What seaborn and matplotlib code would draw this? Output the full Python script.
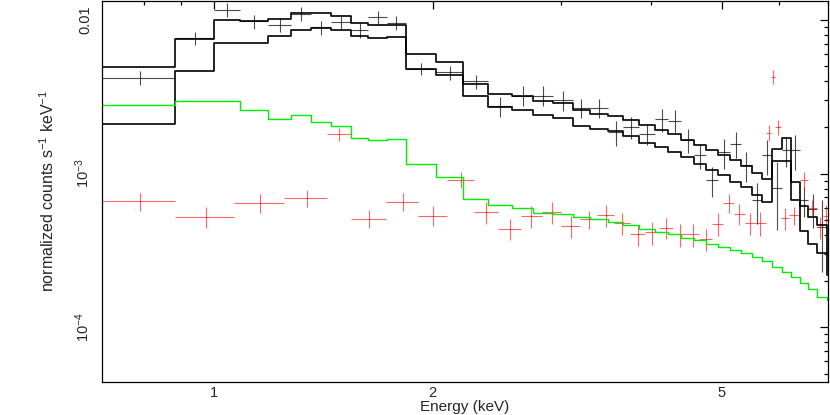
import numpy as np
import pandas as pd
import seaborn as sns
import matplotlib
matplotlib.use("Agg")
import matplotlib.pyplot as plt
from matplotlib.ticker import FixedLocator, NullFormatter, LogLocator

# ---- data ----
# common bin edges (keV) for black data + models
edges = [0.70, 0.884, 1.00, 1.086, 1.187, 1.276, 1.360, 1.449, 1.543, 1.632,
         1.728, 1.838, 2.021, 2.203, 2.387, 2.572, 2.751, 2.931, 3.116, 3.293,
         3.485, 3.659, 3.849, 4.045, 4.216, 4.400, 4.578, 4.763, 4.944, 5.131,
         5.313, 5.495, 5.672, 5.855, 6.044, 6.218, 6.407, 6.580, 6.770, 6.970, 7.20]

model_a = [4.92e-3, 7.56e-3, 1.00e-2, 9.79e-3, 1.015e-2, 1.11e-2, 1.11e-2, 1.066e-2, 9.56e-3, 9.32e-3,
           9.32e-3, 6.02e-3, 5.30e-3, 3.84e-3, 3.31e-3, 3.22e-3, 2.96e-3, 2.87e-3, 2.58e-3, 2.45e-3,
           2.37e-3, 2.24e-3, 2.06e-3, 1.91e-3, 1.80e-3, 1.66e-3, 1.54e-3, 1.43e-3, 1.33e-3, 1.22e-3,
           1.12e-3, 1.01e-3, 9.28e-4, 1.45e-3, 1.70e-3, 8.82e-4, 6.13e-4, 5.23e-4, 4.62e-4, 3.04e-4]

model_b = [2.11e-3, 4.64e-3, 7.12e-3, 7.12e-3, 7.91e-3, 8.65e-3, 8.87e-3, 8.61e-3, 7.82e-3, 7.59e-3,
           7.71e-3, 4.81e-3, 4.35e-3, 3.18e-3, 2.71e-3, 2.58e-3, 2.39e-3, 2.31e-3, 2.04e-3, 1.96e-3,
           1.88e-3, 1.75e-3, 1.58e-3, 1.49e-3, 1.38e-3, 1.28e-3, 1.16e-3, 1.06e-3, 9.78e-4, 8.88e-4,
           8.15e-4, 7.28e-4, 6.58e-4, 1.21e-3, 1.21e-3, 6.71e-4, 4.22e-4, 3.48e-4, 3.05e-4, 2.19e-4]

bkg_model = [2.81e-3, 2.96e-3, 2.96e-3, 2.60e-3, 2.25e-3, 2.40e-3, 2.16e-3, 2.04e-3, 1.70e-3, 1.65e-3,
             1.68e-3, 1.16e-3, 9.50e-4, 6.81e-4, 6.24e-4, 5.98e-4, 5.55e-4, 5.50e-4, 5.23e-4, 5.03e-4,
             4.85e-4, 4.60e-4, 4.39e-4, 4.20e-4, 4.02e-4, 3.80e-4, 3.69e-4, 3.51e-4, 3.34e-4, 3.18e-4,
             3.04e-4, 2.87e-4, 2.71e-4, 2.47e-4, 2.30e-4, 2.11e-4, 1.95e-4, 1.77e-4, 1.58e-4, 1.50e-4]

src_y = [4.20e-3, 7.59e-3, 1.161e-2, 9.79e-3, 9.32e-3, 1.094e-2, 8.95e-3, 9.75e-3, 8.61e-3, 1.04e-2,
         9.61e-3, 4.81e-3, 4.57e-3, 3.98e-3, 2.74e-3, 3.22e-3, 3.22e-3, 2.99e-3, 2.68e-3, 2.68e-3,
         1.86e-3, 2.01e-3, 1.82e-3, 2.25e-3, 2.20e-3, 1.66e-3, 1.315e-3, 9.04e-4, 1.38e-3, 1.565e-3,
         1.132e-3, 6.71e-4, 1.315e-3, 8.11e-4, 1.416e-3, 1.416e-3, 6.71e-4, 5.92e-4, 4.50e-4, 3.0e-4]
src_err = [0.44e-3, 0.72e-3, 1.2e-3, 1.0e-3, 1.0e-3, 1.1e-3, 0.95e-3, 1.05e-3, 1.0e-3, 1.1e-3,
           1.05e-3, 0.40e-3, 0.48e-3, 0.43e-3, 0.40e-3, 0.47e-3, 0.47e-3, 0.45e-3, 0.39e-3, 0.39e-3,
           0.34e-3, 0.32e-3, 0.29e-3, 0.39e-3, 0.38e-3, 0.30e-3, 0.25e-3, 0.20e-3, 0.31e-3, 0.30e-3,
           0.25e-3, 0.20e-3, 0.33e-3, 0.38e-3, 0.31e-3, 0.36e-3, 0.15e-3, 0.15e-3, 0.22e-3, 0.15e-3]

# background spectrum, its own binning
bkg_edges = [0.70, 0.884, 1.066, 1.249, 1.433, 1.542, 1.727, 1.912, 2.095, 2.280,
             2.462, 2.646, 2.825, 3.008, 3.195, 3.370, 3.558, 3.737, 3.919, 4.101,
             4.287, 4.474, 4.655, 4.842, 5.023, 5.196, 5.380, 5.553, 5.745, 5.852,
             5.927, 6.031, 6.184, 6.400, 6.565, 6.761, 6.897, 7.023]
bkg_y = [6.61e-4, 5.26e-4, 6.44e-4, 6.99e-4, 1.80e-3, 5.10e-4, 6.58e-4, 5.34e-4, 9.14e-4, 5.63e-4,
         4.39e-4, 5.28e-4, 5.63e-4, 4.55e-4, 5.03e-4, 5.36e-4, 4.78e-4, 4.02e-4, 4.14e-4, 4.46e-4,
         4.02e-4, 4.03e-4, 3.73e-4, 4.73e-4, 6.44e-4, 5.50e-4, 4.78e-4, 4.78e-4, 1.85e-3, 4.28e-3,
         2.01e-3, 5.12e-4, 5.36e-4, 9.04e-4, 6.00e-4, 4.48e-4, 5.28e-4]
bkg_err = [0.91e-4, 0.81e-4, 0.90e-4, 0.88e-4, 1.7e-4, 0.68e-4, 0.87e-4, 0.79e-4, 1.1e-4, 0.91e-4,
           0.71e-4, 0.85e-4, 0.91e-4, 0.73e-4, 0.69e-4, 0.86e-4, 0.80e-4, 0.64e-4, 0.71e-4, 0.72e-4,
           0.67e-4, 0.70e-4, 0.60e-4, 0.82e-4, 0.90e-4, 0.88e-4, 0.77e-4, 0.85e-4, 2.1e-4, 4.5e-4,
           2.3e-4, 0.83e-4, 0.71e-4, 1.2e-4, 0.71e-4, 0.72e-4, 0.94e-4]

x_ticks = [1, 2, 5]
x_minor = [0.7, 0.8, 0.9, 3, 4, 6, 7]

# ---- style ----
sns.set_style("white")
plt.rcParams["font.family"] = ["Liberation Sans", "DejaVu Sans"]
plt.rcParams["mathtext.fontset"] = "custom"
plt.rcParams["mathtext.rm"] = "Liberation Sans"
plt.rcParams["mathtext.it"] = "Liberation Sans"

fig = plt.figure(figsize=(8.3, 4.15), dpi=100)
ax = fig.add_axes([102 / 830, 1 - 381.7 / 415, 726 / 830, 381.0 / 415])


def steps(e, v):
    return pd.DataFrame({"E": e, "v": list(v) + [v[-1]]})


def centers(e):
    e = np.asarray(e)
    lo, hi = e[:-1], e[1:]
    c = (lo + hi) / 2
    return c, c - lo, hi - c


# data crosses
xc, xl, xh = centers(edges)
ax.errorbar(xc, src_y, xerr=[xl, xh], yerr=src_err, fmt="none",
            ecolor="black", elinewidth=0.8, alpha=0.7, capsize=0)
bc, bl, bh = centers(bkg_edges)
ax.errorbar(bc, bkg_y, xerr=[bl, bh], yerr=bkg_err, fmt="none",
            ecolor="red", elinewidth=0.8, alpha=0.6, capsize=0)

# models
for vals, col, lw in [(model_a, "black", 1.2), (model_b, "black", 1.2), (bkg_model, "#00ee00", 1.0)]:
    sns.lineplot(data=steps(edges, vals), x="E", y="v", ax=ax, color=col, lw=lw,
                 drawstyle="steps-post", estimator=None, sort=False)

ax.set_xscale("log")
ax.set_yscale("log")
ax.set_xlim(0.7014, 7.0)
ax.set_ylim(4.43e-5, 1.333e-2)

ax.xaxis.set_major_locator(FixedLocator(x_ticks))
ax.xaxis.set_minor_locator(FixedLocator(x_minor))
ax.xaxis.set_minor_formatter(NullFormatter())
ax.set_xticklabels([str(t) for t in x_ticks])

ax.yaxis.set_major_locator(FixedLocator([1e-4, 1e-3, 1e-2]))
ax.yaxis.set_minor_locator(LogLocator(base=10, subs=np.arange(2, 10)))
ax.yaxis.set_minor_formatter(NullFormatter())
ax.set_yticklabels([r"$10^{-4}$", r"$10^{-3}$", "0.01"])

ax.tick_params(which="both", direction="in", top=True, right=True, color="black", width=0.9)
ax.tick_params(which="major", length=5.5, labelsize=10.5)
ax.tick_params(which="minor", length=2.8)
ax.tick_params(axis="x", pad=3)
ax.tick_params(axis="y", pad=7, labelrotation=90)
for t in ax.get_yticklabels():
    t.set_va("center")

for s in ax.spines.values():
    s.set_color("black")
    s.set_linewidth(0.9)

ax.set_xlabel("Energy (keV)", fontsize=11)
ax.xaxis.set_label_coords(0.5, -0.049)
ax.set_ylabel(r"normalized counts s$^{-1}$ keV$^{-1}$", fontsize=11.5)
ax.yaxis.set_label_coords(-0.062, 0.5)

fig.savefig("out.png", dpi=100)
